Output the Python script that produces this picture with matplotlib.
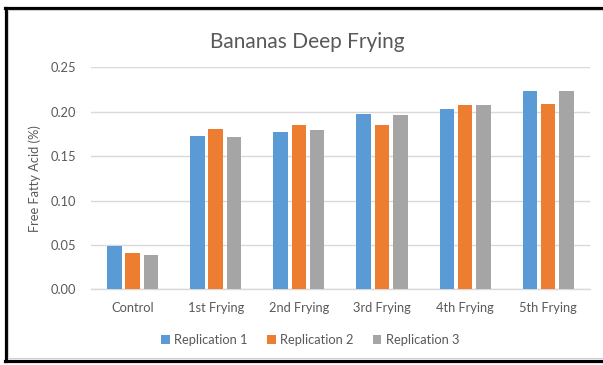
import numpy as np
import matplotlib.pyplot as plt
from matplotlib.lines import Line2D

plt.rcParams['font.family'] = ['Lato', 'DejaVu Sans']

# 데이터
categories = ['Control', '1st Frying', '2nd Frying', '3rd Frying', '4th Frying', '5th Frying']
rep1 = [0.049, 0.173, 0.177, 0.197, 0.203, 0.223]
rep2 = [0.041, 0.180, 0.185, 0.185, 0.207, 0.209]
rep3 = [0.039, 0.172, 0.179, 0.196, 0.208, 0.223]
series_names = ['Replication 1', 'Replication 2', 'Replication 3']
colors = ['#5B9BD5', '#ED7D31', '#A5A5A5']
text_color = '#595959'

fig = plt.figure(figsize=(6.03, 3.65), dpi=100)
ax = fig.add_axes([0.151, 0.2074, 0.827, 0.6082])

x = np.arange(len(categories))
width = 0.175
step = 0.22
for i, (vals, name, c) in enumerate(zip([rep1, rep2, rep3], series_names, colors)):
    ax.bar(x + (i - 1) * step, vals, width, color=c, label=name, zorder=3)

ax.set_xlim(-0.5, len(categories) - 0.5)
ax.set_ylim(0, 0.25)
ax.set_yticks(np.arange(0, 0.251, 0.05))
ax.set_yticklabels([f'{v:.2f}' for v in np.arange(0, 0.251, 0.05)])
ax.set_xticks(x)
ax.set_xticklabels(categories)
ax.tick_params(axis='both', length=0, colors=text_color, labelsize=9.3)
ax.tick_params(axis='y', pad=11)
ax.tick_params(axis='x', pad=9)
ax.grid(axis='y', color='#D9D9D9', linewidth=1, zorder=0)
for s in ['top', 'right', 'left']:
    ax.spines[s].set_visible(False)
ax.spines['bottom'].set_color('#D9D9D9')
ax.spines['bottom'].set_linewidth(1)

ax.set_ylabel('Free Fatty Acid (%)', color=text_color, fontsize=9.3, labelpad=7)
fig.text(0.509, 0.886, 'Bananas Deep Frying', ha='center', va='center',
         color=text_color, fontsize=15)

ax.legend(loc='center', bbox_to_anchor=(0.44, -0.228), ncol=3, frameon=False,
          fontsize=9.3, labelcolor=text_color, handlelength=0.65, handleheight=0.65,
          handletextpad=0.35, columnspacing=1.5)

# 바깥 테두리 (검정 + 안쪽 회색)
W, H = 603, 365
def fx(px):
    return px / W
def fy(py):
    return 1 - py / H
fig.add_artist(Line2D([fx(5.5), fx(5.5)], [fy(7.5), fy(360.5)], color='black', lw=2.3))
fig.add_artist(Line2D([fx(4.5), 1.01], [fy(7.5), fy(7.5)], color='black', lw=2.3))
fig.add_artist(Line2D([fx(4.5), 1.01], [fy(360.5), fy(360.5)], color='black', lw=2.3))
fig.add_artist(Line2D([fx(8), 1.01], [fy(9.8), fy(9.8)], color='#D0D0D0', lw=0.8))
fig.add_artist(Line2D([fx(8), 1.01], [fy(357.8), fy(357.8)], color='#D0D0D0', lw=0.8))
fig.add_artist(Line2D([fx(7.8), fx(7.8)], [fy(9.8), fy(357.8)], color='#D0D0D0', lw=0.8))

fig.savefig('out.png', dpi=100)
